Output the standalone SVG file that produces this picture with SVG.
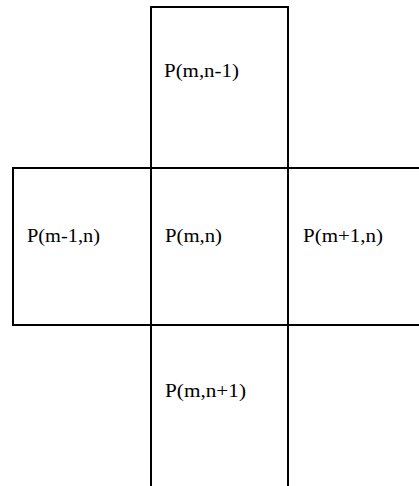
<svg xmlns="http://www.w3.org/2000/svg" width="419" height="486" viewBox="0 0 419 486">
<style>
.b{fill:none;stroke:#000;stroke-width:2}
.t{font-family:"Liberation Serif","Times New Roman",serif;font-size:18px;fill:#000}
</style>
<rect width="419" height="486" fill="#fff"/>
<g id="top">
<path class="b" d="M151,168 V7 H288 V168"/>
<text class="t" x="164" y="77" textLength="75" lengthAdjust="spacingAndGlyphs">P(m,n-1)</text>
</g>
<g id="left">
<path class="b" d="M151,168 H13 V325 H151"/>
<text class="t" x="27" y="241.5" textLength="73" lengthAdjust="spacingAndGlyphs">P(m-1,n)</text>
</g>
<g id="center">
<rect class="b" x="151" y="168" width="137" height="157"/>
<text class="t" x="165" y="241.5" textLength="57" lengthAdjust="spacingAndGlyphs">P(m,n)</text>
</g>
<g id="right">
<path class="b" d="M419,168 H288 V325 H419"/>
<text class="t" x="303" y="241.5" textLength="80" lengthAdjust="spacingAndGlyphs">P(m+1,n)</text>
</g>
<g id="bottom">
<path class="b" d="M151,325 V486 M288,325 V486"/>
<text class="t" x="165" y="396.5" textLength="81" lengthAdjust="spacingAndGlyphs">P(m,n+1)</text>
</g>
<g id="connectors"></g>
</svg>
